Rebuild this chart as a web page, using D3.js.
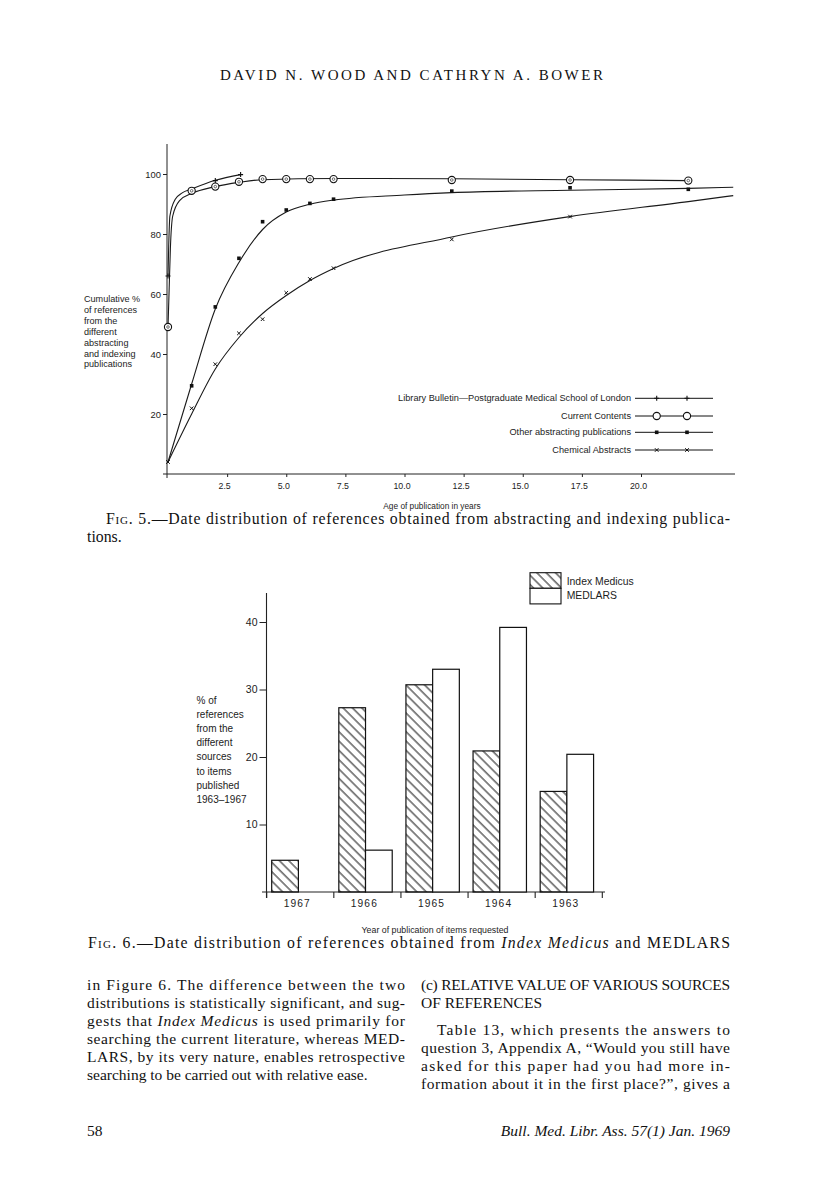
<!DOCTYPE html>
<html>
<head>
<meta charset="utf-8">
<script src="https://cdn.jsdelivr.net/npm/d3@7"></script>
<style>
  body { margin: 0; background: #fff; }
  svg { display: block; }
  .sans { font-family: "Liberation Sans", Arial, sans-serif; fill: #1c1c1c; }
  .serif { font-family: "Liberation Serif", "Times New Roman", serif; fill: #111; }
  .axis path { display: none; }
  .axis line { stroke: #222; }
</style>
</head>
<body>
<svg id="page" width="816" height="1185"></svg>
<script>
// ---- Fig. 5 : cumulative % by age of publication (years) ----
const fig5Ages = [0, 1, 2, 3, 4, 5, 6, 7, 12, 17, 22];
const currentContents = [49, 94.4, 95.8, 97.4, 98.3, 98.3, 98.3, 98.3, 98, 98, 97.8];
const otherAbstracting = [4, 29.4, 55.7, 71.9, 84.1, 88, 90.2, 91.6, 94.3, 95.4, 94.9];
const chemicalAbstracts = [4, 21.9, 36.6, 46.9, 51.6, 60.4, 65, 68.6, 78.2, 85.8];
const libraryAges = [0, 1, 2, 3.07];
const libraryBulletin = [66, 94, 97.8, 99.8];

// fitted curves as drawn on the figure
const libraryCurveAges = [0, 0.03, 0.08, 0.3, 0.6, 1, 2, 3.07];
const libraryCurve = [66, 76, 86, 91.5, 93.7, 95, 97.9, 99.8];
const ccCurveAges = [0, 0.05, 0.1, 0.2, 0.5, 1, 2, 3, 4, 7, 12, 17, 22];
const ccCurve = [49, 62, 75, 86, 91.2, 93.5, 95.8, 97.2, 98.1, 98.5, 98.4, 98.1, 97.8];
const otherCurveAges = [0, 1, 2, 3, 4, 5, 6, 7, 10, 12, 17, 22, 23.9];
const otherCurve = [4, 30, 55, 70.5, 81.5, 87.3, 89.9, 91.3, 93, 93.8, 94.6, 95.2, 95.6];
const chemCurveAges = [0, 1, 2, 3, 4, 5, 6, 7, 12, 17, 22, 23.9];
const chemCurve = [4, 20, 35, 45.5, 53.5, 59.5, 64.5, 68.5, 79, 85.8, 90.8, 92.8];

const fig5XTicks = [2.5, 5, 7.5, 10, 12.5, 15, 17.5, 20];
const fig5YTicks = [20, 40, 60, 80, 100];
const fig5Legend = [
  'Library Bulletin\u2014Postgraduate Medical School of London',
  'Current Contents',
  'Other abstracting publications',
  'Chemical Abstracts'
];

// ---- Fig. 6 : % of references by year of publication ----
const years = ['1967', '1966', '1965', '1964', '1963'];
const indexMedicus = [4.7, 27.3, 30.7, 20.9, 14.9];
const medlars = [0, 6.2, 33.0, 39.2, 20.4];
const fig6YTicks = [10, 20, 30, 40];
const fig6Series = ['Index Medicus', 'MEDLARS'];

const page = d3.select('#page');

const defs = page.append('defs');
defs.append('pattern')
  .attr('id', 'hatch')
  .attr('patternUnits', 'userSpaceOnUse')
  .attr('width', 6.6).attr('height', 6.6)
  .attr('patternTransform', 'rotate(-45)')
  .append('line')
  .attr('x1', 1).attr('y1', 0).attr('x2', 1).attr('y2', 6.6)
  .attr('stroke', '#111').attr('stroke-width', 1);

// ---- running head ----
page.append('text').attr('class', 'serif')
  .attr('x', 220).attr('y', 80)
  .attr('textLength', 383).attr('lengthAdjust', 'spacing')
  .style('font-size', '15px')
  .text('DAVID N. WOOD AND CATHRYN A. BOWER');

// ================= Fig. 5 =================
const x5 = d3.scaleLinear().domain([0, 24]).range([168, 735.6]);
const y5 = d3.scaleLinear().domain([0, 100]).range([474, 174]);

const g5 = page.append('g');

g5.append('line')
  .attr('x1', 167).attr('x2', 167)
  .attr('y1', y5(110)).attr('y2', 478)
  .attr('stroke', '#222').attr('stroke-width', 1);
g5.append('line')
  .attr('x1', 163).attr('x2', 735)
  .attr('y1', y5(0)).attr('y2', y5(0))
  .attr('stroke', '#222').attr('stroke-width', 1);

g5.append('g')
  .attr('class', 'axis sans')
  .attr('transform', 'translate(167,0)')
  .call(d3.axisLeft(y5).tickValues(fig5YTicks).tickSize(4).tickPadding(2))
  .selectAll('text')
  .style('font-size', '9.4px')
  .style('font-family', '"Liberation Sans", Arial, sans-serif')
  .attr('fill', '#1c1c1c');

g5.append('g')
  .attr('class', 'axis sans')
  .attr('transform', `translate(0,${y5(0)})`)
  .call(d3.axisBottom(x5).tickValues(fig5XTicks).tickSize(3).tickPadding(6).tickFormat(d3.format('.1f')))
  .selectAll('text')
  .attr('dx', -3)
  .style('font-size', '8.8px')
  .style('font-family', '"Liberation Sans", Arial, sans-serif')
  .attr('fill', '#1c1c1c');

const yTitle5 = ['Cumulative %', 'of references', 'from the', 'different', 'abstracting', 'and indexing', 'publications'];
g5.append('g').selectAll('text')
  .data(yTitle5)
  .enter()
  .append('text')
  .attr('class', 'sans')
  .attr('x', 84)
  .attr('y', (d, i) => 302 + i * 10.9)
  .style('font-size', '9.1px')
  .text(d => d);

g5.append('text').attr('class', 'sans')
  .attr('x', 432).attr('y', 509)
  .attr('text-anchor', 'middle')
  .style('font-size', '8.3px')
  .text('Age of publication in years');

const line5 = d3.line()
  .x(d => x5(d[0]))
  .y(d => y5(d[1]))
  .curve(d3.curveMonotoneX);

const curves = [
  [libraryCurveAges, libraryCurve],
  [ccCurveAges, ccCurve],
  [otherCurveAges, otherCurve],
  [chemCurveAges, chemCurve]
];
curves.forEach(([ax, vals]) => {
  g5.append('path')
    .datum(ax.map((a, i) => [a, vals[i]]))
    .attr('d', line5)
    .attr('fill', 'none')
    .attr('stroke', '#1a1a1a')
    .attr('stroke-width', 1.1);
});

// marker drawing helpers
const drawPlus = (g, cx, cy) => {
  g.append('path')
    .attr('d', `M${cx - 2.5},${cy}H${cx + 2.5}M${cx},${cy - 2.5}V${cy + 2.5}`)
    .attr('stroke', '#111').attr('stroke-width', 1.1);
};
const drawCircle = (g, cx, cy, inner) => {
  g.append('circle').attr('cx', cx).attr('cy', cy).attr('r', 3.6)
    .attr('fill', '#fff').attr('stroke', '#111').attr('stroke-width', 1.1);
  if (inner) {
    g.append('circle').attr('cx', cx).attr('cy', cy).attr('r', 1.3)
      .attr('fill', 'none').attr('stroke', '#333').attr('stroke-width', 0.7);
  }
};
const drawDot = (g, cx, cy) => {
  g.append('rect').attr('x', cx - 1.8).attr('y', cy - 1.8)
    .attr('width', 3.6).attr('height', 3.6).attr('fill', '#111');
};
const drawCross = (g, cx, cy) => {
  g.append('path')
    .attr('d', `M${cx - 1.8},${cy - 1.8}L${cx + 1.8},${cy + 1.8}M${cx - 1.8},${cy + 1.8}L${cx + 1.8},${cy - 1.8}`)
    .attr('stroke', '#111').attr('stroke-width', 1);
};

const marks = g5.append('g');
libraryAges.forEach((a, i) => drawPlus(marks, x5(a), y5(libraryBulletin[i])));
chemicalAbstracts.forEach((v, i) => drawCross(marks, x5(fig5Ages[i]), y5(v)));
otherAbstracting.forEach((v, i) => { if (i > 0) drawDot(marks, x5(fig5Ages[i]), y5(v)); });
currentContents.forEach((v, i) => drawCircle(marks, x5(fig5Ages[i]), y5(v), true));

// legend
const legend5 = g5.append('g');
const legendRowY = [398.3, 416, 432.3, 450];
const legendMarkers = [drawPlus, (g, cx, cy) => drawCircle(g, cx, cy, false), drawDot, drawCross];
fig5Legend.forEach((label, i) => {
  const ly = legendRowY[i];
  legend5.append('text').attr('class', 'sans')
    .attr('x', 631).attr('y', ly + 3)
    .attr('text-anchor', 'end')
    .style('font-size', '9.2px')
    .text(label);
  legend5.append('line')
    .attr('x1', 635).attr('x2', 713)
    .attr('y1', ly).attr('y2', ly)
    .attr('stroke', '#111').attr('stroke-width', 1);
  legendMarkers[i](legend5, 656.7, ly);
  legendMarkers[i](legend5, 687, ly);
});

// caption 5
const cap5 = page.append('text').attr('class', 'serif')
  .attr('x', 106).attr('y', 524)
  .attr('textLength', 624).attr('lengthAdjust', 'spacing')
  .style('font-size', '15.8px');
cap5.append('tspan').style('font-variant', 'small-caps').text('Fig. 5.');
cap5.append('tspan').text('\u2014Date distribution of references obtained from abstracting and indexing publica-');
page.append('text').attr('class', 'serif')
  .attr('x', 87).attr('y', 542)
  .style('font-size', '15.8px')
  .text('tions.');

// ================= Fig. 6 =================
const x6 = d3.scaleBand().domain(years).range([266.7, 602.3]).padding(0);
const x6inner = d3.scaleBand().domain(fig6Series).range([5, 5 + 53.4]).padding(0);
const y6 = d3.scaleLinear().domain([0, 40]).range([892, 622]);

const g6 = page.append('g');

g6.append('line')
  .attr('x1', 266.5).attr('x2', 266.5)
  .attr('y1', y6(44.3)).attr('y2', 898)
  .attr('stroke', '#222').attr('stroke-width', 1.1);
g6.append('line')
  .attr('x1', 262).attr('x2', 605)
  .attr('y1', y6(0)).attr('y2', y6(0))
  .attr('stroke', '#222').attr('stroke-width', 1.1);

// tick marks at the band edges
g6.append('g').selectAll('line')
  .data(years.concat(['end']))
  .enter()
  .append('line')
  .attr('x1', d => d === 'end' ? x6.range()[1] : x6(d))
  .attr('x2', d => d === 'end' ? x6.range()[1] : x6(d))
  .attr('y1', y6(0)).attr('y2', y6(0) + 6)
  .attr('stroke', '#222').attr('stroke-width', 1.1);

g6.append('g').selectAll('text')
  .data(years)
  .enter()
  .append('text')
  .attr('class', 'sans')
  .attr('x', d => x6(d) + x6.bandwidth() / 2 - 3)
  .attr('y', 907)
  .attr('text-anchor', 'middle')
  .style('font-size', '10.2px')
  .style('letter-spacing', '1.1px')
  .text(d => d);

g6.append('g')
  .attr('class', 'axis sans')
  .attr('transform', 'translate(266.5,0)')
  .call(d3.axisLeft(y6).tickValues(fig6YTicks).tickSize(7).tickPadding(2))
  .selectAll('text')
  .style('font-size', '10.5px')
  .style('font-family', '"Liberation Sans", Arial, sans-serif')
  .attr('fill', '#1c1c1c');

const bars = g6.append('g')
  .selectAll('g')
  .data(years)
  .enter()
  .append('g')
  .attr('transform', d => `translate(${x6(d)},0)`);

bars.selectAll('rect')
  .data((d, i) => [
    { key: 'Index Medicus', value: indexMedicus[i] },
    { key: 'MEDLARS', value: medlars[i] }
  ].filter(b => b.value > 0))
  .enter()
  .append('rect')
  .attr('x', d => x6inner(d.key))
  .attr('y', d => y6(d.value))
  .attr('width', x6inner.bandwidth())
  .attr('height', d => y6(0) - y6(d.value))
  .attr('fill', d => d.key === 'Index Medicus' ? 'url(#hatch)' : '#fff')
  .attr('stroke', '#111')
  .attr('stroke-width', 1.2);

const yTitle6 = ['% of', 'references', 'from the', 'different', 'sources', 'to items', 'published', '1963\u20131967'];
g6.append('g').selectAll('text')
  .data(yTitle6)
  .enter()
  .append('text')
  .attr('class', 'sans')
  .attr('x', 196.5)
  .attr('y', (d, i) => 703.5 + i * 14.2)
  .style('font-size', '10px')
  .text(d => d);

g6.append('text').attr('class', 'sans')
  .attr('x', 435).attr('y', 933)
  .attr('text-anchor', 'middle')
  .style('font-size', '8.8px')
  .text('Year of publication of items requested');

// legend 6
const legend6 = g6.append('g');
fig6Series.forEach((s, i) => {
  legend6.append('rect')
    .attr('x', 530).attr('y', 572.7 + i * 15.6)
    .attr('width', 31).attr('height', 15.6)
    .attr('fill', i === 0 ? 'url(#hatch)' : '#fff')
    .attr('stroke', '#111').attr('stroke-width', 1.1);
  legend6.append('text').attr('class', 'sans')
    .attr('x', 566.7).attr('y', 584.5 + i * 14.5)
    .style('font-size', '10.4px')
    .text(s);
});

// caption 6
const cap6 = page.append('text').attr('class', 'serif')
  .attr('x', 88).attr('y', 948)
  .attr('textLength', 642).attr('lengthAdjust', 'spacing')
  .style('font-size', '15.8px');
cap6.append('tspan').style('font-variant', 'small-caps').text('Fig. 6.');
cap6.append('tspan').text('\u2014Date distribution of references obtained from ');
cap6.append('tspan').style('font-style', 'italic').text('Index Medicus');
cap6.append('tspan').text(' and MEDLARS');

// ================= body text =================
const leftCol = [
  ['in Figure 6. The difference between the two', true],
  ['distributions is statistically significant, and sug-', true],
  [null, true],
  ['searching the current literature, whereas MED-', true],
  ['LARS, by its very nature, enables retrospective', true],
  ['searching to be carried out with relative ease.', false]
];
const rightCol = [
  ['(c) RELATIVE VALUE OF VARIOUS SOURCES', true, 421, 990],
  ['OF REFERENCES', false, 421, 1008],
  ['Table 13, which presents the answers to', true, 437, 1035],
  ['question 3, Appendix A, \u201cWould you still have', true, 421, 1053],
  ['asked for this paper had you had more in-', true, 421, 1071],
  ['formation about it in the first place?\u201d, gives a', true, 421, 1089]
];

leftCol.forEach(([txt, justify], i) => {
  const t = page.append('text').attr('class', 'serif')
    .attr('x', 87).attr('y', 990 + i * 18)
    .style('font-size', '15.5px');
  if (justify) t.attr('textLength', 318).attr('lengthAdjust', 'spacing');
  if (txt === null) {
    t.append('tspan').text('gests that ');
    t.append('tspan').style('font-style', 'italic').text('Index Medicus');
    t.append('tspan').text(' is used primarily for');
  } else {
    t.text(txt);
  }
});

rightCol.forEach(([txt, justify, x, y]) => {
  const t = page.append('text').attr('class', 'serif')
    .attr('x', x).attr('y', y)
    .style('font-size', '15.5px')
    .text(txt);
  if (justify) t.attr('textLength', 730 - x).attr('lengthAdjust', 'spacing');
});

// footer
page.append('text').attr('class', 'serif')
  .attr('x', 87).attr('y', 1136)
  .style('font-size', '15.5px')
  .text('58');
page.append('text').attr('class', 'serif')
  .attr('x', 730).attr('y', 1136)
  .attr('text-anchor', 'end')
  .style('font-size', '15.5px')
  .style('font-style', 'italic')
  .text('Bull. Med. Libr. Ass. 57(1) Jan. 1969');
</script>
</body>
</html>
